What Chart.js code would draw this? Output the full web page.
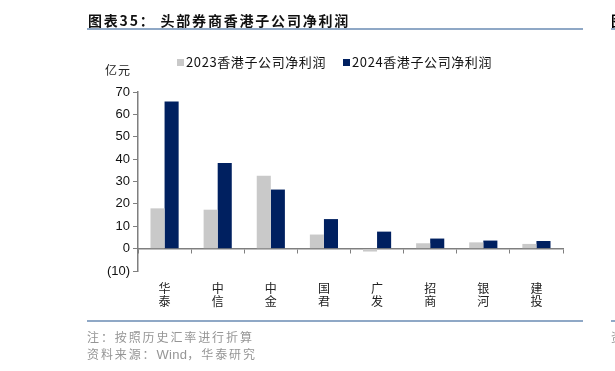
<!DOCTYPE html>
<html lang="zh">
<head>
    <meta charset="UTF-8">
    <title>头部券商香港子公司净利润</title>
    <script src="https://cdn.jsdelivr.net/npm/chart.js"></script>
    <style>
        body { margin: 0; background: #fff; }
        #wrap { position: relative; width: 615px; height: 371px; overflow: hidden; font-family: "Noto Sans CJK SC", "Liberation Sans", sans-serif; }
        #chart { position: absolute; left: 0; top: 0; }
        .abs { position: absolute; white-space: nowrap; }
        .rule { position: absolute; height: 2px; background: #8fa8c6; }
        #title { left: 88px; top: 10px; font-size: 14px; font-weight: bold; letter-spacing: 1.8px; color: #111; }
        #unit { left: 105px; top: 61px; font-size: 12px; letter-spacing: 1px; color: #222; }
        .note { left: 87px; font-size: 12px; letter-spacing: 1.9px; color: #959595; }
        .leg { top: 52px; font-size: 13px; color: #111; letter-spacing: 0.6px; }
        .leg i { display: inline-block; width: 7px; height: 7px; margin-right: 2px; vertical-align: 1px; }
    </style>
</head>
<body>
<div id="wrap">
    <canvas id="chart" width="615" height="371"></canvas>
    <div id="title" class="abs">图表35：&nbsp;头部券商香港子公司净利润</div>
    <div class="rule" style="left:87px; width:496px; top:28px;"></div>
    <div class="abs" style="left:611px; top:10px; font-size:14px; font-weight:bold;">图</div>
    <div class="rule" style="left:611px; width:10px; top:28px;"></div>
    <div id="unit" class="abs">亿元</div>
    <div id="legend"></div>
    <div class="rule" style="left:87px; width:496px; top:320px;"></div>
    <div class="rule" style="left:611px; width:10px; top:320px;"></div>
    <div class="abs note" style="top:328px;">注：按照历史汇率进行折算</div>
    <div class="abs note" style="top:345px;">资料来源：<span style="font-family:'Liberation Sans'; letter-spacing:0.3px; font-size:13px;">Wind</span>，华泰研究</div>
    <div class="abs note" style="left:611px; top:328px;">资</div>
</div>

<script>
    // data (亿元)
    const brokers = [['华', '泰'], ['中', '信'], ['中', '金'], ['国', '君'], ['广', '发'], ['招', '商'], ['银', '河'], ['建', '投']];
    const seriesNames = ['2023香港子公司净利润', '2024香港子公司净利润'];
    const profit2023 = [18.0, 17.4, 32.6, 6.3, -1.3, 2.4, 2.8, 2.1];
    const profit2024 = [65.7, 38.3, 26.4, 13.2, 7.6, 4.5, 3.6, 3.4];
    const seriesColors = ['#c9c9c9', '#002060'];

    // legend
    const legendLeft = [177, 343];
    document.getElementById('legend').innerHTML = seriesNames.map((n, i) =>
        '<div class="abs leg" style="left:' + legendLeft[i] + 'px"><i style="background:' + seriesColors[i] + '"></i>' + n + '</div>'
    ).join('');

    const axisColor = '#7f7f7f';
    const ctx = document.getElementById('chart').getContext('2d');

    const chart = new Chart(ctx, {
        type: 'bar',
        data: {
            labels: brokers,
            datasets: [
                {
                    label: seriesNames[0],
                    data: profit2023,
                    backgroundColor: seriesColors[0],
                    borderWidth: 0
                },
                {
                    label: seriesNames[1],
                    data: profit2024,
                    backgroundColor: seriesColors[1],
                    borderWidth: 0
                }
            ]
        },
        options: {
            responsive: false,
            animation: false,
            events: [],
            layout: {
                padding: { left: 0, right: 52, top: 92, bottom: 100 }
            },
            plugins: {
                legend: { display: false },
                tooltip: { enabled: false }
            },
            datasets: {
                bar: { categoryPercentage: 0.53, barPercentage: 1 }
            },
            scales: {
                x: {
                    position: { y: 0 },
                    grid: {
                        display: true,
                        offset: true,
                        drawOnChartArea: false,
                        drawTicks: true,
                        tickLength: 4,
                        color: axisColor
                    },
                    border: { display: true, color: axisColor, width: 1.5 },
                    ticks: {
                        padding: 30,
                        color: '#222',
                        font: { family: 'Noto Sans CJK SC', size: 12, lineHeight: 1.05 }
                    }
                },
                y: {
                    min: -10,
                    max: 70,
                    afterFit: (scale) => { scale.width = 138; },
                    grid: {
                        display: true,
                        drawOnChartArea: false,
                        drawTicks: true,
                        tickLength: 5,
                        color: axisColor
                    },
                    border: { display: true, color: axisColor, width: 1.5 },
                    ticks: {
                        stepSize: 10,
                        padding: 3,
                        color: '#111',
                        font: { family: 'Liberation Sans', size: 13 },
                        callback: (v) => v < 0 ? '(' + (-v) + ')' : v
                    }
                }
            }
        }
    });
</script>
</body>
</html>
